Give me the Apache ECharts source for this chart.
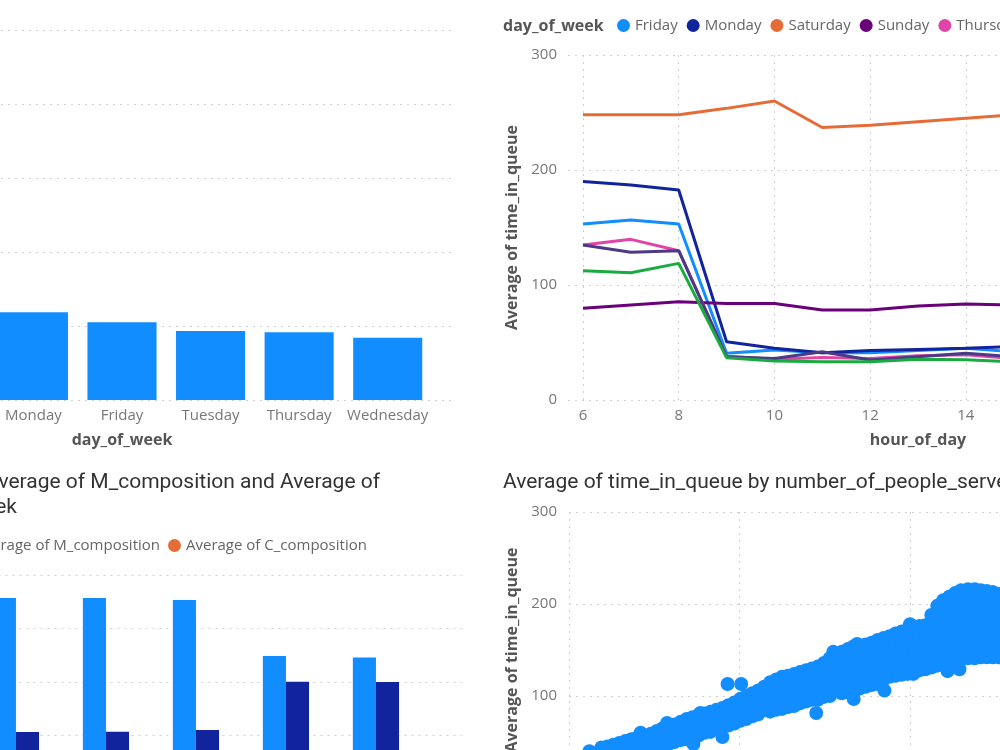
<!DOCTYPE html>
<html>
<head>
<meta charset="utf-8">
<script src="https://cdn.jsdelivr.net/npm/echarts@6/dist/echarts.min.js"></script>
<style>
html, body { margin: 0; padding: 0; background: #fff; overflow: hidden; }
#main { width: 1000px; height: 750px; }
</style>
</head>
<body>
<div id="main"></div>
<script>
// data
var days = ['Saturday', 'Sunday', 'Monday', 'Friday', 'Tuesday', 'Thursday', 'Wednesday'];
var avgQueueByDay = [245, 82, 59.3, 52.5, 46.6, 45.7, 42.1];

var wComposition = [0.49, 0.71, 0.714, 0.714, 0.707, 0.497, 0.492];
var mComposition = [0.41, 0.21, 0.213, 0.214, 0.221, 0.401, 0.400];
var cComposition = [0.10, 0.08, 0.073, 0.072, 0.072, 0.102, 0.108];

var hours = [6, 7, 8, 9, 10, 11, 12, 13, 14, 15, 16, 17, 18, 19, 20];
var lineDays = ['Friday', 'Monday', 'Saturday', 'Sunday', 'Thursday', 'Tuesday', 'Wednesday'];
var fridayQ    = [153, 156.5, 153, 40.6, 43.5, 41, 41, 43, 45, 42, 44, 42, 45, 43, 41];
var mondayQ    = [190, 187, 182.6, 50.7, 45, 41, 43, 44, 45, 46.5, 45, 47, 44, 46, 45];
var saturdayQ  = [248, 248, 248, 253.6, 260, 237, 239, 242, 245, 248, 246, 250, 247, 244, 248];
var sundayQ    = [79.7, 82.6, 85.5, 84, 84, 78.3, 78.3, 81.7, 83.5, 82.6, 84, 81, 83, 80, 82];
var thursdayQ  = [134.8, 139.7, 129.8, 38, 35.4, 37, 36, 38.5, 39.4, 36, 37, 38, 36, 37, 38];
var tuesdayQ   = [134.8, 128.4, 129.8, 37.7, 36, 42, 34.8, 37.7, 40.6, 37.7, 38, 36, 39, 37, 38];
var wednesdayQ = [112.4, 110.7, 118.8, 36.8, 33.9, 33.3, 33.3, 35.4, 35, 33.3, 34, 35, 33, 34, 35];
var lineColors = ['#118DFF', '#12239E', '#E66C37', '#6B007B', '#E044A7', '#4B3A86', '#1AAB40'];

// number_of_people_served, time_in_queue
var servedVsQueue = [
	[1.2,40],[1.2,31],[1.2,22],[1.2,13],[1.2,5],
	[1.55,36],[1.55,27],[1.55,18],[1.55,9],
	[1.9,44],[1.9,35],[1.9,27],[1.9,18],[1.9,10],
	[2.25,45],[2.25,37],[2.25,29],[2.25,21],[2.25,13],
	[2.6,47],[2.6,39],[2.6,31],[2.6,23],[2.6,15],
	[2.95,49],[2.95,41],[2.95,33],[2.95,25],
	[3.3,51],[3.3,43],[3.3,36],[3.3,28],[3.3,21],
	[3.65,53],[3.65,45],[3.65,37],[3.65,30],
	[4.0,55],[4.0,47],[4.0,39],[4.0,31],
	[4.4,57],[4.4,50],[4.4,43],[4.4,36],
	[4.8,59],[4.8,52],[4.8,45],[4.8,39],
	[5.15,62],[5.15,55],[5.15,48],[5.15,42],
	[5.5,65],[5.5,58],[5.5,52],[5.5,46],
	[5.85,67],[5.85,60],[5.85,54],[5.85,48],
	[6.2,69],[6.2,62],[6.2,56],[6.2,50],
	[6.55,72],[6.55,65],[6.55,58],[6.55,52],
	[6.9,75],[6.9,68],[6.9,61],[6.9,53],
	[7.25,77],[7.25,70],[7.25,63],[7.25,56],
	[7.6,79],[7.6,71],[7.6,64],[7.6,57],
	[7.95,81],[7.95,74],[7.95,67],[7.95,60],
	[8.3,83],[8.3,76],[8.3,68],[8.3,61],
	[8.65,85],[8.65,78],[8.65,71],[8.65,64],
	[9.0,87],[9.0,80],[9.0,73],[9.0,66],
	[9.35,90],[9.35,82],[9.35,75],[9.35,68],
	[9.7,93],[9.7,85],[9.7,77],[9.7,70],
	[10.05,97],[10.05,88],[10.05,80],[10.05,73],
	[10.4,100],[10.4,92],[10.4,83],[10.4,75],
	[10.75,103],[10.75,94],[10.75,86],[10.75,78],
	[11.1,106],[11.1,97],[11.1,88],[11.1,80],
	[11.45,110],[11.45,101],[11.45,93],[11.45,85],
	[11.8,115],[11.8,107],[11.8,99],[11.8,91],[11.8,83],
	[12.15,118],[12.15,109],[12.15,100],[12.15,92],[12.15,85],
	[12.5,121],[12.5,112],[12.5,103],[12.5,94],[12.5,86],
	[12.85,122],[12.85,113],[12.85,104],[12.85,95],[12.85,88],
	[13.2,124],[13.2,115],[13.2,106],[13.2,97],[13.2,89],
	[13.55,126],[13.55,117],[13.55,108],[13.55,100],[13.55,92],
	[13.9,128],[13.9,119],[13.9,111],[13.9,102],[13.9,94],
	[14.25,130],[14.25,121],[14.25,112],[14.25,104],[14.25,96],
	[14.6,132],[14.6,123],[14.6,114],[14.6,105],[14.6,96],
	[14.95,136],[14.95,126],[14.95,116],[14.95,107],[14.95,99],
	[15.3,141],[15.3,131],[15.3,121],[15.3,110],[15.3,100],
	[15.65,145],[15.65,135],[15.65,125],[15.65,115],[15.65,106],
	[16.0,148],[16.0,139],[16.0,130],[16.0,121],[16.0,112],[16.0,103],
	[16.35,151],[16.35,141],[16.35,131],[16.35,121],[16.35,111],[16.35,104],
	[16.7,154],[16.7,144],[16.7,134],[16.7,125],[16.7,115],[16.7,106],
	[17.05,155],[17.05,146],[17.05,136],[17.05,126],[17.05,117],[17.05,108],
	[17.4,156],[17.4,147],[17.4,138],[17.4,128],[17.4,119],[17.4,110],
	[17.75,158],[17.75,149],[17.75,139],[17.75,130],[17.75,121],[17.75,112],
	[18.1,161],[18.1,151],[18.1,141],[18.1,132],[18.1,122],[18.1,113],
	[18.45,163],[18.45,153],[18.45,144],[18.45,135],[18.45,126],[18.45,118],
	[18.8,165],[18.8,156],[18.8,147],[18.8,138],[18.8,129],[18.8,121],
	[19.15,168],[19.15,158],[19.15,149],[19.15,140],[19.15,131],[19.15,122],
	[19.5,170],[19.5,161],[19.5,151],[19.5,142],[19.5,132],[19.5,123],
	[19.85,172],[19.85,163],[19.85,153],[19.85,143],[19.85,133],[19.85,124],
	[20.2,175],[20.2,165],[20.2,155],[20.2,144],[20.2,134],[20.2,124],
	[20.55,176],[20.55,166],[20.55,157],[20.55,147],[20.55,137],[20.55,128],
	[20.9,177],[20.9,167],[20.9,158],[20.9,148],[20.9,139],[20.9,129],
	[21.25,188],[21.25,178],[21.25,168],[21.25,158],[21.25,148],[21.25,138],[21.25,131],
	[21.6,198],[21.6,189],[21.6,180],[21.6,170],[21.6,161],[21.6,151],[21.6,142],[21.6,133],
	[21.95,204],[21.95,194],[21.95,184],[21.95,174],[21.95,164],[21.95,154],[21.95,144],[21.95,135],
	[22.3,208],[22.3,198],[22.3,188],[22.3,178],[22.3,167],[22.3,157],[22.3,147],[22.3,137],
	[22.65,212],[22.65,202],[22.65,191],[22.65,180],[22.65,170],[22.65,159],[22.65,149],[22.65,138],
	[23.0,215],[23.0,205],[23.0,194],[23.0,183],[23.0,172],[23.0,161],[23.0,150],[23.0,139],
	[23.4,216],[23.4,205],[23.4,195],[23.4,184],[23.4,173],[23.4,163],[23.4,152],[23.4,141],
	[23.8,216],[23.8,205],[23.8,195],[23.8,184],[23.8,173],[23.8,162],[23.8,152],[23.8,141],
	[24.15,215],[24.15,205],[24.15,194],[24.15,184],[24.15,173],[24.15,163],[24.15,152],[24.15,142],
	[24.5,214],[24.5,204],[24.5,194],[24.5,183],[24.5,173],[24.5,162],[24.5,152],[24.5,142],
	[24.85,213],[24.85,202],[24.85,192],[24.85,182],[24.85,172],[24.85,162],[24.85,152],[24.85,142],
	[25.2,211],[25.2,201],[25.2,191],[25.2,181],[25.2,171],[25.2,161],[25.2,152],[25.2,142],
	[25.55,211],[25.55,201],[25.55,190],[25.55,180],[25.55,170],[25.55,160],[25.55,150],[25.55,143],
	[25.9,212],[25.9,202],[25.9,192],[25.9,182],[25.9,172],[25.9,163],[25.9,154],[25.9,145],
	// edge points and outliers
	[4.2,60],[5.75,70.6],[7.7,81.5],[15.5,148],[16.9,156.5],[20.0,178],
	[7.3,47.8],[9.0,55.4],[14.5,81.5],[16.7,96.7],[22.2,127],[22.9,129],
	[9.3,113],[10.1,113],[18.5,106]
];

var lineValues = [fridayQ, mondayQ, saturdayQ, sundayQ, thursdayQ, tuesdayQ, wednesdayQ];

var myChart = echarts.init(document.getElementById('main'));

var labelFont = 'Open Sans';
var titleFont = 'Roboto';
var dotted = { color: '#cfcfcf', type: [2, 5], width: 1 };
var titleStyle = { fontFamily: titleFont, fontSize: 21, fontWeight: 'normal', color: '#333' };
var axisNameStyle = { fontSize: 16, fontWeight: 'bold', color: '#555' };

function pairs(vals) {
	return hours.map(function (h, i) { return [h, vals[i]]; });
}

var lineSeries = lineDays.map(function (d, i) {
	return {
		name: d,
		type: 'line',
		xAxisIndex: 2,
		yAxisIndex: 2,
		showSymbol: false,
		lineStyle: { width: 3, color: lineColors[i] },
		itemStyle: { color: lineColors[i] },
		data: pairs(lineValues[i])
	};
});

function grid(o) { return Object.assign({ containLabel: false, outerBoundsMode: 'none' }, o); }

var option = {
	animation: false,
	textStyle: { fontFamily: labelFont },
	title: [
		{ text: 'day_of_week', left: 503, top: 18, padding: 0,
			textStyle: { fontFamily: labelFont, fontSize: 16, fontWeight: 'bold', color: '#555' } },
		{ text: 'Average of W_composition, Average of M_composition and Average of', right: 620, top: 472, padding: 0, textStyle: titleStyle },
		{ text: 'C_composition by day_of_week', right: 983, top: 497, padding: 0, textStyle: titleStyle },
		{ text: 'Average of time_in_queue by number_of_people_served', left: 503, top: 472, padding: 0, textStyle: titleStyle }
	],
	legend: [
		{
			data: lineDays, left: 617, top: 18, width: 1200, padding: 0, icon: 'circle',
			itemWidth: 13, itemHeight: 13, itemGap: 9,
			textStyle: { fontSize: 15, color: '#666' }
		},
		{
			data: ['Average of W_composition', 'Average of M_composition'], right: 840, top: 538, width: 800, padding: 0,
			icon: 'circle', itemWidth: 13, itemHeight: 13, itemGap: 9,
			textStyle: { fontSize: 15, color: '#666' }
		},
		{
			data: ['Average of C_composition'], left: 168, top: 538, width: 600, padding: 0,
			icon: 'circle', itemWidth: 13, itemHeight: 13, itemGap: 9,
			textStyle: { fontSize: 15, color: '#666' }
		}
	],
	grid: [
		grid({ left: -188, top: 30, width: 620, height: 370 }),      // 0 bars top-left
		grid({ left: -188, top: 30, width: 643, height: 370 }),      // 1 gridlines top-left
		grid({ left: 583, top: 55, width: 670, height: 345 }),       // 2 lines
		grid({ left: -197.5, top: 575, width: 630, height: 214 }),   // 3 bars bottom-left
		grid({ left: -197.5, top: 575, width: 659.5, height: 214 }), // 4 gridlines bottom-left
		grid({ left: 569, top: 512, width: 682, height: 276 }),      // 5 scatter
		grid({ left: 568, top: 55, width: 685, height: 345 })        // 6 gridlines lines
	],
	xAxis: [
		{
			gridIndex: 0, type: 'category', data: days,
			axisLine: { show: false }, axisTick: { show: false },
			axisLabel: { fontSize: 15, color: '#777', margin: 8, interval: 0 },
			name: 'day_of_week', nameLocation: 'middle', nameGap: 32,
			nameTextStyle: axisNameStyle
		},
		{ gridIndex: 1, type: 'value', show: false },
		{
			gridIndex: 2, type: 'value', min: 6, max: 20, interval: 2,
			axisLine: { show: false }, axisTick: { show: false },
			axisLabel: { fontSize: 15, color: '#777', margin: 8 },
			splitLine: { show: true, lineStyle: dotted },
			name: 'hour_of_day', nameLocation: 'middle', nameGap: 32,
			nameTextStyle: axisNameStyle
		},
		{
			gridIndex: 3, type: 'category', data: days,
			axisLine: { show: false }, axisTick: { show: false },
			axisLabel: { fontSize: 15, color: '#777', interval: 0 }
		},
		{ gridIndex: 4, type: 'value', show: false },
		{
			gridIndex: 5, type: 'value', min: 0, max: 40, interval: 10,
			axisLine: { show: false }, axisTick: { show: false },
			axisLabel: { fontSize: 15, color: '#777' },
			splitLine: { show: true, lineStyle: dotted }
		},
		{ gridIndex: 6, type: 'value', show: false }
	],
	yAxis: [
		{
			gridIndex: 0, type: 'value', min: 0, max: 250, interval: 50,
			axisLine: { show: false }, axisLabel: { show: false }, splitLine: { show: false }
		},
		{
			gridIndex: 1, type: 'value', min: 0, max: 250, interval: 50,
			axisLine: { show: false }, axisTick: { show: false },
			axisLabel: { fontSize: 15, color: '#777' },
			splitLine: { show: true, lineStyle: dotted }
		},
		{
			gridIndex: 2, type: 'value', min: 0, max: 300, interval: 100,
			axisLine: { show: false }, axisTick: { show: false },
			axisLabel: { show: false }, splitLine: { show: false }
		},
		{
			gridIndex: 3, type: 'value', min: 0, max: 0.8, interval: 0.2,
			axisLine: { show: false }, axisLabel: { show: false }, splitLine: { show: false }
		},
		{
			gridIndex: 4, type: 'value', min: 0, max: 0.8, interval: 0.2,
			axisLine: { show: false }, axisTick: { show: false },
			axisLabel: { fontSize: 15, color: '#777' },
			splitLine: { show: true, lineStyle: dotted }
		},
		{
			gridIndex: 5, type: 'value', min: 0, max: 300, interval: 100,
			axisLine: { show: false }, axisTick: { show: false },
			axisLabel: { fontSize: 15, color: '#777', margin: 12 },
			splitLine: { show: true, lineStyle: dotted },
			name: 'Average of time_in_queue', nameLocation: 'middle', nameGap: 44,
			nameTextStyle: axisNameStyle
		},
		{
			gridIndex: 6, type: 'value', min: 0, max: 300, interval: 100,
			axisLine: { show: false }, axisTick: { show: false },
			axisLabel: { fontSize: 15, color: '#777', margin: 11 },
			splitLine: { show: true, lineStyle: dotted },
			name: 'Average of time_in_queue', nameLocation: 'middle', nameGap: 42,
			nameTextStyle: axisNameStyle
		}
	],
	series: [
		{
			name: 'Average of time_in_queue', type: 'bar', xAxisIndex: 0, yAxisIndex: 0,
			barCategoryGap: '22%', itemStyle: { color: '#118DFF' },
			data: avgQueueByDay
		},
		{
			name: 'Average of W_composition', type: 'bar', xAxisIndex: 3, yAxisIndex: 3,
			barGap: 0, barCategoryGap: '23%', itemStyle: { color: '#118DFF' },
			data: wComposition
		},
		{
			name: 'Average of M_composition', type: 'bar', xAxisIndex: 3, yAxisIndex: 3,
			barGap: 0, barCategoryGap: '23%', itemStyle: { color: '#12239E' },
			data: mComposition
		},
		{
			name: 'Average of C_composition', type: 'bar', xAxisIndex: 3, yAxisIndex: 3,
			barGap: 0, barCategoryGap: '23%', itemStyle: { color: '#E66C37' },
			data: cComposition
		},
		{
			name: 'Average of time_in_queue by number_of_people_served', type: 'scatter',
			xAxisIndex: 5, yAxisIndex: 5, symbolSize: 14,
			itemStyle: { color: '#118DFF', opacity: 1 },
			data: servedVsQueue
		}
	].concat(lineSeries)
};

myChart.setOption(option);
</script>
</body>
</html>
